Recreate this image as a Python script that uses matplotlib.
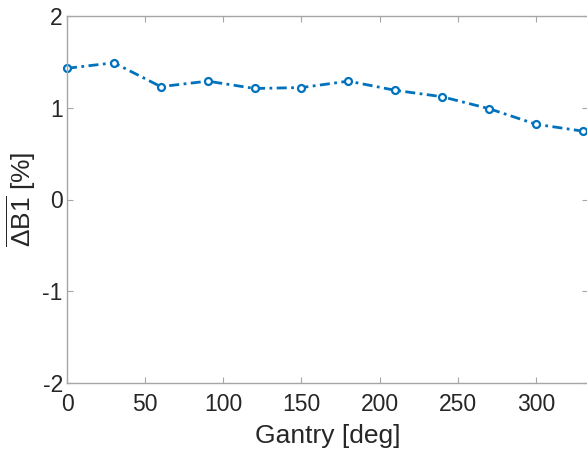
import matplotlib
matplotlib.use("Agg")
import matplotlib.pyplot as plt

plt.rcParams['font.family'] = ['Liberation Sans', 'DejaVu Sans']
plt.rcParams['mathtext.fontset'] = 'custom'
plt.rcParams['mathtext.rm'] = 'Liberation Sans'
plt.rcParams['mathtext.it'] = 'Liberation Sans:italic'
plt.rcParams['axes.unicode_minus'] = False

# gantry angle vs mean B1 deviation
gantry_deg = [0, 30, 60, 90, 120, 150, 180, 210, 240, 270, 300, 330]
delta_b1 = [1.43, 1.49, 1.23, 1.29, 1.21, 1.22, 1.29, 1.19, 1.12, 0.99, 0.82, 0.745]

x_ticks = [0, 50, 100, 150, 200, 250, 300]
y_ticks = [-2, -1, 0, 1, 2]

axis_grey = '#a6a6a6'
text_col = '#262626'

fig = plt.figure(figsize=(5.87, 4.54), dpi=100)
ax = fig.add_axes([67/587., 71/454., 1 - 67/587. + 0.001, (383-16)/454.])

ax.plot(gantry_deg, delta_b1, linestyle=(0, (3.6, 1.6, 1.0, 1.6)), color='#0072BD', linewidth=2,
        marker='o', markersize=5, markerfacecolor='white', markeredgewidth=1.6,
        clip_on=False)

ax.set_xlim(0, 333)
ax.set_ylim(-2, 2)
ax.set_xticks(x_ticks)
ax.set_yticks(y_ticks)
ax.tick_params(direction='in', length=4, color=axis_grey, labelcolor=text_col,
               labelsize=16.5, top=True, right=True)
ax.tick_params(axis='x', pad=7)
ax.tick_params(axis='y', pad=3)
for s in ax.spines.values():
    s.set_color(axis_grey)
    s.set_linewidth(1.0)

ax.set_xlabel('Gantry [deg]', fontsize=19, color=text_col, labelpad=6)
ax.set_ylabel(r'$\overline{\Delta\mathrm{B1}}$ [%]', fontsize=19, color=text_col, labelpad=3)

fig.savefig('out.png', dpi=100)
